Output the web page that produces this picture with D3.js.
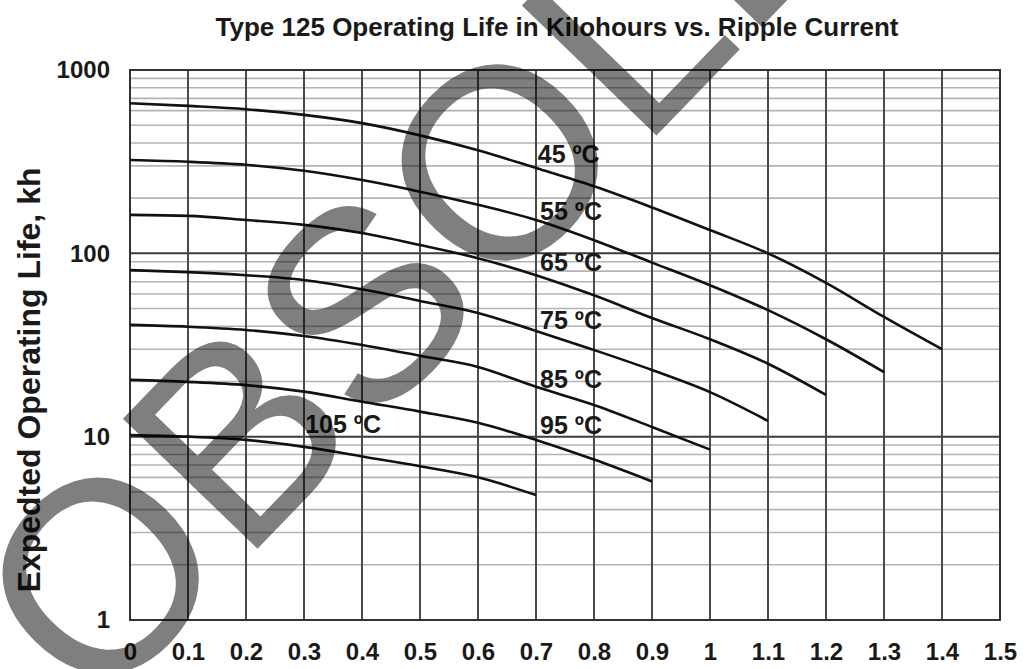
<!DOCTYPE html>
<html>
<head>
<meta charset="utf-8">
<script src="https://cdn.jsdelivr.net/npm/d3@7"></script>
<style>
  body { margin: 0; background: #fff; }
  svg { display: block; font-family: "Liberation Sans", Arial, sans-serif; }
</style>
</head>
<body>
<script>
// ---------- data ----------
const ripple = [0, 0.1, 0.2, 0.3, 0.4, 0.5, 0.6, 0.7, 0.8, 0.9, 1.0, 1.1, 1.2, 1.3, 1.4];
const life45  = [659, 637, 611, 569, 513, 440, 365, 292, 232, 178, 134, 100, 69, 45, 30];
const life55  = [323, 316, 304, 282, 251, 217, 184, 152, 118, 89, 67, 49, 34, 22.5];
const life65  = [162, 160, 152, 143, 129, 111, 94, 76, 59, 44.4, 34, 25, 16.9];
const life75  = [81, 79, 76, 71.6, 63.7, 55, 47.3, 37.7, 29.7, 23.1, 17.5, 12.2];
const life85  = [40.7, 39.8, 38.2, 35.4, 31.6, 27.6, 24.0, 18.7, 14.9, 11.3, 8.5];
const life95  = [20.4, 19.9, 19.1, 17.6, 15.5, 13.7, 11.9, 9.6, 7.5, 5.7];
const life105 = [10.2, 10.0, 9.6, 8.8, 7.8, 6.9, 6.0, 4.8];

const seriesNames = ["45 ºC", "55 ºC", "65 ºC", "75 ºC", "85 ºC", "95 ºC", "105 ºC"];
const seriesValues = [life45, life55, life65, life75, life85, life95, life105];
// label anchor points (data coordinates: ripple current, kh)
const labelRipple = [0.703, 0.707, 0.707, 0.707, 0.707, 0.707, 0.302];
const labelLife   = [311, 152, 80, 38.7, 18.4, 10.35, 10.5];

const xTickValues = [0, 0.1, 0.2, 0.3, 0.4, 0.5, 0.6, 0.7, 0.8, 0.9, 1, 1.1, 1.2, 1.3, 1.4, 1.5];
const xTickLabels = ["0", "0.1", "0.2", "0.3", "0.4", "0.5", "0.6", "0.7", "0.8", "0.9", "1", "1.1", "1.2", "1.3", "1.4", "1.5"];
const yTickValues = [1, 10, 100, 1000];
const yTickLabels = ["1", "10", "100", "1000"];

const titleText = "Type 125 Operating Life in Kilohours vs. Ripple Current";
const yTitleText = "Expedted Operating Life, kh";
const watermarkText = "OBSOLETE";

// ---------- layout ----------
const W = 1028, H = 669;
const mLeft = 130, mRight = 1000, mTop = 70, mBottom = 620;

const svg = d3.select("body").append("svg").attr("width", W).attr("height", H);
svg.append("rect").attr("width", W).attr("height", H).attr("fill", "#fff");

const x = d3.scaleLinear().domain([0, 1.5]).range([mLeft, mRight]);
const y = d3.scaleLog().domain([1, 1000]).range([mBottom, mTop]);

// grid
const allY = y.ticks();
const decades = allY.filter(v => Math.abs(Math.log10(v) - Math.round(Math.log10(v))) < 1e-9);
const minors = allY.filter(v => !decades.includes(v));

const grid = svg.append("g");
grid.append("g").selectAll("line").data(minors).join("line")
  .attr("x1", mLeft).attr("x2", mRight)
  .attr("y1", d => y(d)).attr("y2", d => y(d))
  .attr("stroke", "#b4b4b4").attr("stroke-width", 1.6);
grid.append("g").selectAll("line").data(decades).join("line")
  .attr("x1", mLeft).attr("x2", mRight)
  .attr("y1", d => y(d)).attr("y2", d => y(d))
  .attr("stroke", "#3c3c3c").attr("stroke-width", 2);
grid.append("g").selectAll("line").data(xTickValues).join("line")
  .attr("x1", d => x(d)).attr("x2", d => x(d))
  .attr("y1", mTop).attr("y2", mBottom)
  .attr("stroke", "#4a4a4a").attr("stroke-width", 2);
grid.append("rect").attr("x", mLeft).attr("y", mTop)
  .attr("width", mRight - mLeft).attr("height", mBottom - mTop)
  .attr("fill", "none").attr("stroke", "#333").attr("stroke-width", 2);

// curves
const line = d3.line()
  .x((d, i) => x(ripple[i]))
  .y(d => y(d))
  .curve(d3.curveMonotoneX);
svg.append("g").selectAll("path").data(seriesValues).join("path")
  .attr("d", d => line(d))
  .attr("fill", "none").attr("stroke", "#111").attr("stroke-width", 2.6);

// series labels
svg.append("g").selectAll("text").data(seriesNames).join("text")
  .attr("x", (d, i) => x(labelRipple[i]))
  .attr("y", (d, i) => y(labelLife[i]))
  .attr("font-size", 25).attr("font-weight", "bold").attr("fill", "#1a1a1a")
  .text(d => d);

// axes
const xAxis = d3.axisBottom(x).tickValues(xTickValues)
  .tickFormat((d, i) => xTickLabels[i]).tickSize(0).tickPadding(23);
const gx = svg.append("g").attr("transform", `translate(0,${mBottom})`).call(xAxis);
gx.select(".domain").remove();
gx.selectAll("text").attr("font-size", 24).attr("font-weight", "bold")
  .attr("fill", "#1a1a1a").attr("font-family", "Liberation Sans, Arial, sans-serif");

const yAxis = d3.axisLeft(y).tickValues(yTickValues)
  .tickFormat((d, i) => yTickLabels[i]).tickSize(0).tickPadding(20);
const gy = svg.append("g").attr("transform", `translate(${mLeft},0)`).call(yAxis);
gy.select(".domain").remove();
gy.selectAll("text").attr("font-size", 24).attr("font-weight", "bold")
  .attr("fill", "#1a1a1a").attr("font-family", "Liberation Sans, Arial, sans-serif");

// titles
svg.append("text").attr("x", 557).attr("y", 36)
  .attr("text-anchor", "middle").attr("font-size", 26).attr("font-weight", "bold")
  .attr("fill", "#1a1a1a").text(titleText);
svg.append("text").attr("transform", "translate(40,380) rotate(-90)")
  .attr("text-anchor", "middle").attr("font-size", 32).attr("font-weight", "bold")
  .attr("fill", "#1a1a1a").text(yTitleText);

// watermark
svg.append("text").attr("transform", "translate(95,717) rotate(-46)")
  .attr("font-size", 272).attr("font-family", "Liberation Sans, Arial, sans-serif")
  .attr("fill", "#000").attr("fill-opacity", 0.5)
  .text(watermarkText);
</script>
</body>
</html>
